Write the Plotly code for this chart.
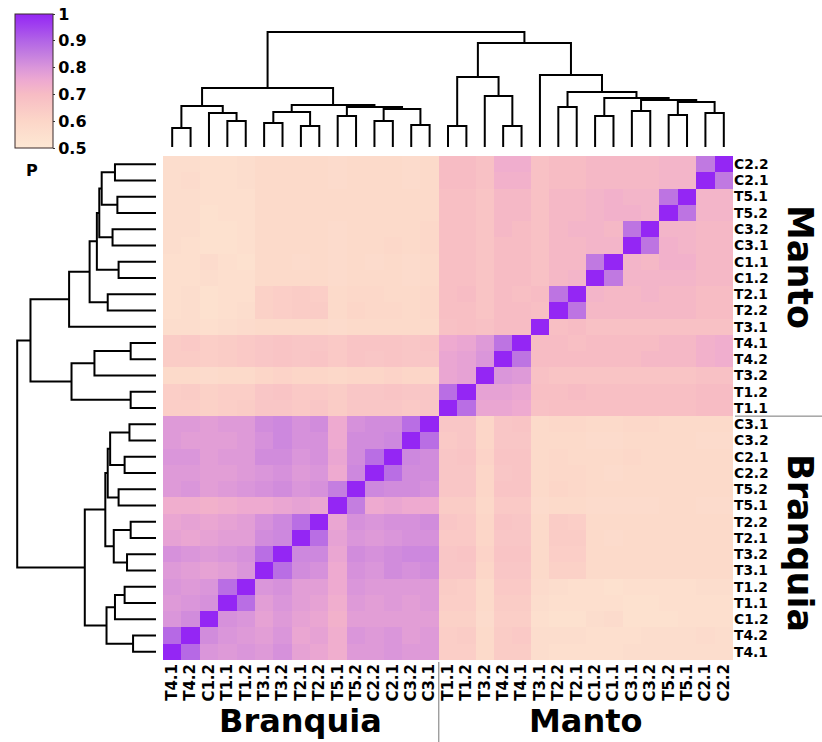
import plotly.graph_objects as go

# Sample order along both axes (left -> right, bottom -> top)
branquia_samples = ["T4.1", "T4.2", "C1.2", "T1.1", "T1.2", "T3.1", "T3.2", "T2.1",
                    "T2.2", "T5.1", "T5.2", "C2.2", "C2.1", "C3.2", "C3.1"]
manto_samples = ["T1.1", "T1.2", "T3.2", "T4.2", "T4.1", "T3.1", "T2.2", "T2.1",
                 "C1.2", "C1.1", "C3.1", "C3.2", "T5.2", "T5.1", "C2.1", "C2.2"]
samples = branquia_samples + manto_samples

# Pairwise correlation P, lower triangle (row i holds columns 0..i)
p_lower = [
    [1.00],
    [0.89, 1.00],
    [0.80, 0.82, 1.00],
    [0.79, 0.80, 0.81, 1.00],
    [0.80, 0.79, 0.80, 0.88, 1.00],
    [0.79, 0.78, 0.77, 0.78, 0.80, 1.00],
    [0.81, 0.80, 0.79, 0.80, 0.81, 0.88, 1.00],
    [0.77, 0.76, 0.77, 0.78, 0.78, 0.82, 0.83, 1.00],
    [0.76, 0.77, 0.76, 0.77, 0.78, 0.81, 0.83, 0.88, 1.00],
    [0.74, 0.74, 0.73, 0.74, 0.75, 0.75, 0.76, 0.77, 0.76, 1.00],
    [0.79, 0.80, 0.78, 0.79, 0.80, 0.81, 0.82, 0.80, 0.81, 0.85, 1.00],
    [0.79, 0.79, 0.78, 0.78, 0.79, 0.80, 0.81, 0.79, 0.80, 0.75, 0.83, 1.00],
    [0.80, 0.80, 0.78, 0.79, 0.79, 0.82, 0.82, 0.80, 0.81, 0.76, 0.82, 0.88, 1.00],
    [0.79, 0.78, 0.78, 0.78, 0.79, 0.81, 0.83, 0.81, 0.81, 0.75, 0.82, 0.82, 0.83, 1.00],
    [0.79, 0.79, 0.78, 0.79, 0.79, 0.82, 0.83, 0.81, 0.82, 0.75, 0.81, 0.82, 0.82, 0.88, 1.00],
    [0.63, 0.63, 0.62, 0.63, 0.64, 0.66, 0.66, 0.65, 0.66, 0.64, 0.66, 0.66, 0.66, 0.65, 0.66,
     1.00],
    [0.63, 0.64, 0.62, 0.63, 0.63, 0.66, 0.67, 0.65, 0.65, 0.64, 0.66, 0.66, 0.67, 0.66, 0.66,
     0.88, 1.00],
    [0.58, 0.58, 0.57, 0.58, 0.58, 0.60, 0.61, 0.60, 0.60, 0.59, 0.60, 0.60, 0.61, 0.60, 0.60,
     0.76, 0.77, 1.00],
    [0.64, 0.64, 0.63, 0.64, 0.65, 0.66, 0.67, 0.66, 0.67, 0.65, 0.67, 0.66, 0.67, 0.66, 0.66,
     0.76, 0.77, 0.80, 1.00],
    [0.64, 0.65, 0.63, 0.64, 0.65, 0.66, 0.67, 0.66, 0.66, 0.65, 0.67, 0.67, 0.67, 0.66, 0.67,
     0.75, 0.76, 0.79, 0.87, 1.00],
    [0.56, 0.56, 0.55, 0.56, 0.57, 0.58, 0.58, 0.58, 0.58, 0.57, 0.58, 0.58, 0.58, 0.58, 0.58,
     0.68, 0.69, 0.68, 0.70, 0.70, 1.00],
    [0.55, 0.56, 0.54, 0.55, 0.56, 0.62, 0.63, 0.64, 0.64, 0.58, 0.60, 0.59, 0.59, 0.58, 0.59,
     0.69, 0.69, 0.67, 0.70, 0.70, 0.69, 1.00],
    [0.55, 0.56, 0.54, 0.55, 0.55, 0.62, 0.63, 0.64, 0.63, 0.58, 0.59, 0.59, 0.58, 0.58, 0.59,
     0.69, 0.70, 0.67, 0.70, 0.69, 0.70, 0.87, 1.00],
    [0.55, 0.55, 0.56, 0.55, 0.55, 0.58, 0.58, 0.58, 0.58, 0.57, 0.58, 0.58, 0.58, 0.57, 0.58,
     0.69, 0.69, 0.67, 0.70, 0.70, 0.68, 0.71, 0.72, 1.00],
    [0.55, 0.55, 0.57, 0.55, 0.54, 0.58, 0.58, 0.57, 0.58, 0.57, 0.58, 0.57, 0.58, 0.57, 0.58,
     0.69, 0.69, 0.67, 0.70, 0.70, 0.68, 0.71, 0.71, 0.86, 1.00],
    [0.56, 0.55, 0.54, 0.54, 0.55, 0.58, 0.58, 0.58, 0.58, 0.57, 0.58, 0.58, 0.59, 0.58, 0.59,
     0.69, 0.69, 0.67, 0.70, 0.70, 0.68, 0.71, 0.71, 0.72, 0.72, 1.00],
    [0.56, 0.56, 0.54, 0.54, 0.55, 0.58, 0.58, 0.58, 0.58, 0.57, 0.58, 0.58, 0.58, 0.58, 0.59,
     0.69, 0.69, 0.67, 0.71, 0.70, 0.68, 0.71, 0.72, 0.72, 0.71, 0.87, 1.00],
    [0.56, 0.56, 0.54, 0.55, 0.55, 0.58, 0.58, 0.58, 0.58, 0.58, 0.58, 0.58, 0.58, 0.58, 0.58,
     0.69, 0.69, 0.67, 0.71, 0.71, 0.68, 0.71, 0.71, 0.72, 0.73, 0.73, 0.72, 1.00],
    [0.56, 0.56, 0.55, 0.55, 0.55, 0.58, 0.58, 0.58, 0.58, 0.58, 0.58, 0.58, 0.58, 0.58, 0.58,
     0.69, 0.69, 0.67, 0.71, 0.71, 0.68, 0.71, 0.71, 0.72, 0.73, 0.72, 0.72, 0.87, 1.00],
    [0.56, 0.57, 0.55, 0.55, 0.56, 0.58, 0.58, 0.58, 0.58, 0.57, 0.58, 0.58, 0.58, 0.57, 0.58,
     0.70, 0.70, 0.68, 0.73, 0.73, 0.68, 0.70, 0.70, 0.71, 0.71, 0.71, 0.71, 0.72, 0.72, 1.00],
    [0.56, 0.56, 0.55, 0.55, 0.56, 0.58, 0.58, 0.58, 0.58, 0.57, 0.58, 0.58, 0.58, 0.57, 0.58,
     0.70, 0.70, 0.68, 0.74, 0.74, 0.68, 0.70, 0.70, 0.71, 0.71, 0.71, 0.71, 0.72, 0.72, 0.86,
     1.00],
]

# Hierarchical clustering merges: (child a, child b, height); node n+k is merge k
linkage = [
    (0, 1, 19), (3, 4, 26), (2, 32, 34), (31, 33, 41),
    (5, 6, 24), (7, 8, 21), (35, 36, 35), (9, 10, 31),
    (11, 12, 26), (13, 14, 22), (39, 40, 38), (38, 41, 40),
    (37, 42, 42), (34, 43, 59),
    (15, 16, 21), (18, 19, 21), (17, 46, 51), (45, 47, 70),
    (21, 22, 40), (23, 24, 31), (25, 26, 36), (27, 28, 32),
    (29, 30, 34), (52, 53, 45), (51, 54, 47), (50, 55, 49),
    (49, 56, 55), (20, 57, 72), (48, 58, 104), (44, 59, 115),
]

colorbar_ticks = [0.5, 0.6, 0.7, 0.8, 0.9, 1.0]
colorbar_ticktext = ["0.5", "0.6", "0.7", "0.8", "0.9", "1"]

n = len(samples)
z = [[p_lower[max(i, j)][min(i, j)] for j in range(n)] for i in range(n)]

# Dendrogram segments from the linkage table
pos = {i: float(i) for i in range(n)}
hgt = {i: 0.0 for i in range(n)}
seg_leaf, seg_h = [], []
for k, (a, b, h) in enumerate(linkage):
    seg_leaf += [pos[a], pos[a], pos[b], pos[b], None]
    seg_h += [hgt[a], h, h, hgt[b], None]
    pos[n + k] = (pos[a] + pos[b]) / 2
    hgt[n + k] = h
top_h = max(h for _, _, h in linkage)

W, H = 822, 742
def px(v):
    return v / W
def py(v):
    return 1 - v / H

colorscale = [
    [0.0, "#fde8d4"], [0.2, "#fcd6c8"], [0.4, "#f7bcc4"], [0.5, "#eeaad0"],
    [0.6, "#da96da"], [0.7, "#c47ee0"], [0.8, "#b264e6"], [0.9, "#a244ee"],
    [1.0, "#9426f4"],
]

bold = dict(family="DejaVu Sans", color="black", weight="bold")
leaf_range = [-0.5, n - 0.5]

fig = go.Figure()
fig.add_trace(go.Heatmap(
    z=z, x=list(range(n)), y=list(range(n)),
    colorscale=colorscale, zmin=0.5, zmax=1.0,
    xaxis="x", yaxis="y", hoverinfo="skip",
    colorbar=dict(
        x=px(15), xanchor="left", y=py(14), yanchor="top",
        len=134, lenmode="pixels", thickness=38, thicknessmode="pixels",
        xpad=0, ypad=0, outlinewidth=1, outlinecolor="#3a2a2a",
        tickvals=colorbar_ticks, ticktext=colorbar_ticktext,
        ticks="outside", ticklen=2, tickcolor="#333",
        tickfont=dict(size=16, **bold),
    ),
))
fig.add_trace(go.Scatter(
    x=seg_leaf, y=seg_h, mode="lines", xaxis="x2", yaxis="y2",
    line=dict(color="black", width=2), hoverinfo="skip", showlegend=False,
))
fig.add_trace(go.Scatter(
    x=seg_h, y=seg_leaf, mode="lines", xaxis="x3", yaxis="y3",
    line=dict(color="black", width=2), hoverinfo="skip", showlegend=False,
))

hm_x = [px(163), px(733)]
hm_y = [py(660), py(156)]
plain = dict(showgrid=False, zeroline=False, showline=False)
fig.update_layout(
    width=W, height=H, autosize=False,
    margin=dict(l=0, r=0, t=0, b=0),
    paper_bgcolor="white", plot_bgcolor="white",
    showlegend=False,
    xaxis=dict(domain=hm_x, range=leaf_range, anchor="y", side="bottom",
               tickvals=list(range(n)), ticktext=samples, tickangle=-90,
               ticks="", tickfont=dict(size=15, **bold), **plain),
    yaxis=dict(domain=hm_y, range=leaf_range, anchor="x", side="right",
               tickvals=list(range(n)), ticktext=samples,
               ticks="", tickfont=dict(size=13.8, **bold), **plain),
    xaxis2=dict(domain=hm_x, range=leaf_range, anchor="y2", visible=False),
    yaxis2=dict(domain=[py(147), py(31)], range=[0, top_h + 1], anchor="x2", visible=False),
    xaxis3=dict(domain=[px(16), px(156)], range=[top_h + 1, 0], anchor="y3", visible=False),
    yaxis3=dict(domain=hm_y, range=leaf_range, anchor="x3", visible=False),
)

# Tissue separators
fig.add_shape(type="line", xref="x", yref="paper", x0=14.5, x1=14.5,
              y0=0, y1=py(662), line=dict(color="#777", width=1))
fig.add_shape(type="line", xref="paper", yref="y", x0=px(735), x1=1,
              y0=14.5, y1=14.5, line=dict(color="#777", width=1))

# Group titles
fig.add_annotation(text="Branquia", xref="x", yref="paper", x=7, y=py(742),
                   xanchor="center", yanchor="bottom",
                   showarrow=False, font=dict(size=32, **bold))
fig.add_annotation(text="Manto", xref="x", yref="paper", x=22.5, y=py(742),
                   xanchor="center", yanchor="bottom",
                   showarrow=False, font=dict(size=32, **bold))
fig.add_annotation(text="Manto", xref="paper", yref="paper", x=px(800), y=py(267),
                   xanchor="center", yanchor="middle",
                   textangle=90, showarrow=False, font=dict(size=35, **bold))
fig.add_annotation(text="Branquia", xref="paper", yref="paper", x=px(800), y=py(543),
                   xanchor="center", yanchor="middle",
                   textangle=90, showarrow=False, font=dict(size=35, **bold))
fig.add_annotation(text="P", xref="paper", yref="paper", x=px(32), y=py(170),
                   xanchor="center", yanchor="middle",
                   showarrow=False, font=dict(size=16, **bold))

fig.write_html("out.html")
